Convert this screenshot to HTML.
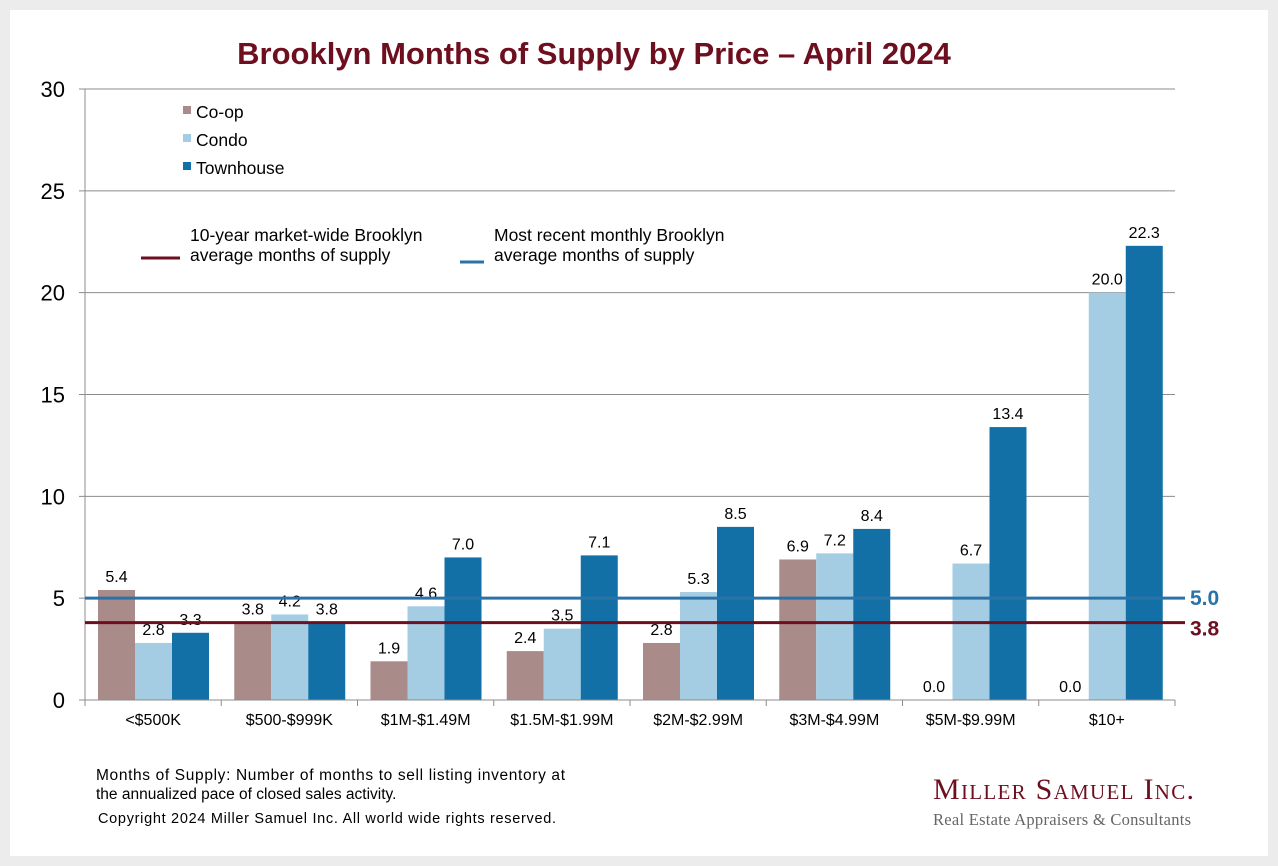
<!DOCTYPE html>
<html><head><meta charset="utf-8"><style>
body{margin:0;background:#ececec;font-family:"Liberation Sans",Arial,sans-serif;}
#panel{position:absolute;left:10px;top:10px;width:1258px;height:846px;background:#fff;}
svg text{font-family:"Liberation Sans",Arial,sans-serif;}
</style></head><body>
<div id="panel"></div>
<svg id="chart" width="1278" height="866" style="position:absolute;left:0;top:0"></svg>
<script>
const categories=["<$500K","$500-$999K","$1M-$1.49M","$1.5M-$1.99M","$2M-$2.99M","$3M-$4.99M","$5M-$9.99M","$10+"];
const coop=[5.4,3.8,1.9,2.4,2.8,6.9,0.0,0.0];
const condo=[2.8,4.2,4.6,3.5,5.3,7.2,6.7,20.0];
const townhouse=[3.3,3.8,7.0,7.1,8.5,8.4,13.4,22.3];
const yTicks=[0,5,10,15,20,25,30];
const avg10yr=3.8;
const recentAvg=5.0;

const svg=document.getElementById('chart');
const NS='http://www.w3.org/2000/svg';
const X0=85,X1=1175,Y0=700,Y30=89;
const y=v=>Y0-(v/30)*(Y0-Y30);
const gw=(X1-X0)/categories.length;
function el(tag,attrs,text){const e=document.createElementNS(NS,tag);for(const k in attrs)e.setAttribute(k,attrs[k]);if(text!==undefined)e.textContent=text;svg.appendChild(e);return e;}

let t=el('text',{x:594,y:64,'text-anchor':'middle','font-size':31,'font-weight':'bold',fill:'#6e0f1f'},'Brooklyn Months of Supply by Price – April 2024');



yTicks.forEach(v=>{
  const g=el('line',{x1:79,x2:X1,y1:y(v),y2:y(v),stroke:'#8c8c8c','stroke-width':1});
  
  
  const l=el('text',{x:65,y:y(v)+8,'text-anchor':'end','font-size':22,fill:'#000'},String(v));
  
  
});
const ax=el('line',{x1:X0,x2:X0,y1:Y30,y2:Y0,stroke:'#8c8c8c','stroke-width':1});



const series=[[coop,'#a98b89','coop'],[condo,'#a4cde3','condo'],[townhouse,'#1270a7','townhouse']];
categories.forEach((c,i)=>{
  const gx=X0+i*gw;
  series.forEach(([arr,col,nm],j)=>{
    const bx=gx+13+j*37, v=arr[i];
    const r=el('rect',{x:bx,y:y(v),width:37,height:Y0-y(v),fill:col});
    
    
    const lt=el('text',{x:bx+18.5,y:y(v)-8,'text-anchor':'middle','font-size':16,fill:'#000'},v.toFixed(1));
    
    
  });
  const tk=el('line',{x1:gx,x2:gx,y1:Y0,y2:Y0+6,stroke:'#8c8c8c'});
  
  
  const xl=el('text',{x:gx+gw/2,y:Y0+25,'text-anchor':'middle','font-size':16,fill:'#000'},c);
  
  
});
const tke=el('line',{x1:X1,x2:X1,y1:Y0,y2:Y0+6,stroke:'#8c8c8c'});


const xa=el('line',{x1:X0,x2:X1,y1:Y0,y2:Y0,stroke:'#8c8c8c'});



const bl=el('line',{x1:X0,x2:1185,y1:y(recentAvg),y2:y(recentAvg),stroke:'#2a73a8','stroke-width':3});


const rl=el('line',{x1:X0,x2:1185,y1:y(avg10yr),y2:y(avg10yr),stroke:'#6e0f1f','stroke-width':3});


const bt=el('text',{x:1190,y:y(recentAvg)+7,'font-size':21,'font-weight':'bold',fill:'#2a73a8'},recentAvg.toFixed(1));


const rt=el('text',{x:1190,y:y(avg10yr)+13,'font-size':21,'font-weight':'bold',fill:'#6e0f1f'},avg10yr.toFixed(1));



[['Co-op','#a98b89',112],['Condo','#a4cde3',140],['Townhouse','#1270a7',168]].forEach(([n,c,yy])=>{
  const s=el('rect',{x:183,y:yy-6,width:8,height:8,fill:c});
  
  
  const lt=el('text',{x:196,y:yy+6,'font-size':17.5,fill:'#000'},n);
  
  
});
const l1=el('line',{x1:141,x2:180,y1:258,y2:258,stroke:'#6e0f1f','stroke-width':3});


const l1a=el('text',{x:190,y:241,'font-size':17.5},'10-year market-wide Brooklyn');


const l1b=el('text',{x:190,y:261,'font-size':17.5},'average months of supply');


const l2=el('line',{x1:460,x2:484,y1:262,y2:262,stroke:'#2a73a8','stroke-width':3});


const l2a=el('text',{x:494,y:241,'font-size':17.5},'Most recent monthly Brooklyn');


const l2b=el('text',{x:494,y:261,'font-size':17.5},'average months of supply');



const f1=el('text',{x:96,y:780,'font-size':15.5,textLength:469},'Months of Supply: Number of months to sell listing inventory at');


const f2=el('text',{x:96,y:799,'font-size':15.5},'the annualized pace of closed sales activity.');


const f3=el('text',{x:98,y:823,'font-size':14.5,textLength:458},'Copyright 2024 Miller Samuel Inc.  All world wide rights reserved.');


const lg=el('text',{x:933,y:799,'font-size':30,fill:'#6e0f1f','textLength':261},'Miller Samuel Inc.');
lg.setAttribute('style','font-family:"Liberation Serif",serif;font-variant:small-caps');


const lg2=el('text',{x:933,y:825,'font-size':16.5,fill:'#666','textLength':258,style:'font-family:"Liberation Serif",serif'},'Real Estate Appraisers & Consultants');


</script>
</body></html>
